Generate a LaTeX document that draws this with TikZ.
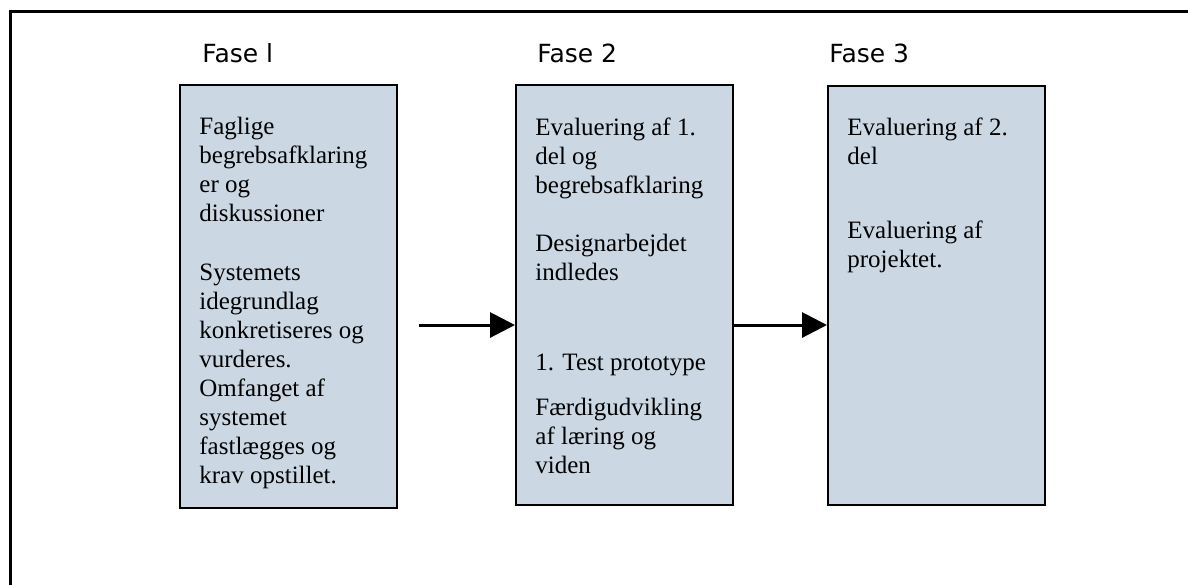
\documentclass[tikz,border=0pt]{standalone}
\usepackage{fontspec}
\setmainfont{Liberation Serif}
\newfontfamily\headfont{DejaVu Sans}
\usetikzlibrary{arrows.meta}
\definecolor{phasefill}{RGB}{203,216,228}
\tikzset{
  phasebox/.style={draw=black,line width=1.1pt,fill=phasefill,minimum width=108.5pt,anchor=north west,inner sep=0},
  phasehead/.style={font=\headfont\fontsize{12.5}{15}\selectfont,anchor=base west,inner sep=0},
  phasetext/.style={font=\fontsize{12.5}{14.5}\selectfont,align=left,anchor=north west,inner sep=0},
  phasearrow/.style={line width=1.5pt,-{Triangle[length=12.5pt,width=12.5pt]}}
}
\begin{document}
\begin{tikzpicture}[x=0.5pt,y=-0.5pt]
\useasboundingbox(0,0)rectangle(1188,585);
\draw[line width=1.5pt](1188,11.5)--(10,11.5)--(10,585); %frame
\node[phasebox,minimum height=211.5pt](box1)at(179,84){}; %fase 1
\node[phasebox,minimum height=210pt](box2)at(515,84){}; %fase 2
\node[phasebox,minimum height=209.5pt](box3)at(827,85){}; %fase 3
%headings
\node[phasehead](h1)at(202,62){Fase l};
\node[phasehead](h2)at(537,62){Fase 2};
\node[phasehead](h3)at(829,62){Fase 3};
%texts (top = baseline - strut)
\node[phasetext](t1a)at(199,113.7){\strut Faglige\\begrebsafklaring\\er og\\diskussioner};
\node[phasetext](t1b)at(199,259.7){\strut Systemets\\idegrundlag\\konkretiseres og\\vurderes.\\Omfanget af\\systemet\\fastlægges og\\krav opstillet.};
\node[phasetext](t2a)at(535,114.7){\strut Evaluering af 1.\\del og\\begrebsafklaring};
\node[phasetext](t2b)at(535,230.7){\strut Designarbejdet\\indledes};
\node[phasetext](t2c)at(535,349.7){\strut 1. Test prototype};
\node[phasetext](t2d)at(535,394.7){\strut Færdigudvikling\\af læring og\\viden};
\node[phasetext](t3a)at(847,114.7){\strut Evaluering af 2.\\del};
\node[phasetext](t3b)at(847,217.7){\strut Evaluering af\\projektet.};
%arrows
\coordinate(a1)at(419,325);
\draw[phasearrow](a1)--(a1-|box2.west);
\draw[phasearrow](box2.east|-a1)--(box3.west|-a1);
\end{tikzpicture}
\end{document}
